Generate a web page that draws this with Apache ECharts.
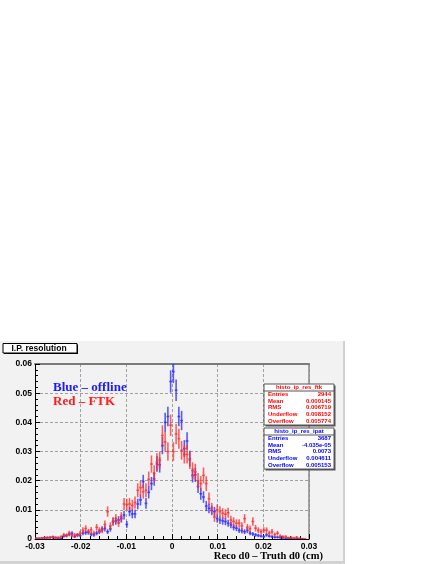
<!DOCTYPE html>
<html>
<head>
<meta charset="utf-8">
<script src="https://cdn.jsdelivr.net/npm/echarts@6/dist/echarts.min.js"></script>
<style>
html,body{margin:0;padding:0;background:#fff;}
#chart{width:436px;height:564px;}
</style>
</head>
<body>
<div id="chart"></div>
<script>
// Histogram binning (100 bins from -0.03 to 0.03)
const binLow = -0.03;
const binHigh = 0.03;
const nBins = 100;

// Normalised bin contents
const blueValues = [
  0.0002,0.0002,0.0003,0.0004,0.0005,0.0005,0.0006,0.0005,0.0003,0.0002,
  0.0010,0.0012,0.0016,0.0019,0.0008,0.0014,0.0012,0.0020,0.0022,0.0023,
  0.0016,0.0014,0.0020,0.0025,0.0034,0.0036,0.0025,0.0035,0.0060,0.0062,
  0.0065,0.0070,0.0082,0.0050,0.0094,0.0086,0.0086,0.0120,0.0134,0.0197,
  0.0122,0.0160,0.0190,0.0206,0.0257,0.0254,0.0320,0.0400,0.0420,0.0540,
  0.0574,0.0510,0.0420,0.0406,0.0310,0.0336,0.0275,0.0218,0.0220,0.0180,
  0.0155,0.0144,0.0113,0.0105,0.0098,0.0094,0.0070,0.0065,0.0062,0.0060,
  0.0054,0.0048,0.0040,0.0037,0.0030,0.0028,0.0025,0.0029,0.0020,0.0017,
  0.0014,0.0012,0.0010,0.0008,0.0014,0.0010,0.0008,0.0006,0.0006,0.0005,
  0.0004,0.0003,0.0003,0.0002,0.0002,0.0001,0.0001,0.0001,0,0
];
const redValues = [
  0.0002,0.0002,0.0003,0.0005,0.0003,0.0005,0.0007,0.0004,0.0005,0.0008,
  0.0014,0.0012,0.0020,0.0011,0.0014,0.0013,0.0020,0.0030,0.0036,0.0025,
  0.0031,0.0020,0.0040,0.0030,0.0030,0.0050,0.0094,0.0045,0.0060,0.0070,
  0.0055,0.0076,0.0120,0.0118,0.0120,0.0115,0.0125,0.0167,0.0176,0.0162,
  0.0167,0.0205,0.0257,0.0225,0.0264,0.0270,0.0355,0.0333,0.0300,0.0390,
  0.0300,0.0360,0.0344,0.0304,0.0290,0.0290,0.0270,0.0235,0.0230,0.0200,
  0.0190,0.0218,0.0190,0.0138,0.0105,0.0075,0.0100,0.0094,0.0088,0.0085,
  0.0090,0.0065,0.0060,0.0054,0.0054,0.0045,0.0070,0.0040,0.0035,0.0060,
  0.0037,0.0030,0.0025,0.0030,0.0030,0.0020,0.0025,0.0015,0.0020,0.0010,
  0.0008,0.0008,0.0004,0.0005,0.0003,0.0006,0.0002,0.0001,0.0001,0
];

const blueEntries = 3687;
const redEntries = 2944;

const xTicks = [-0.03,-0.02,-0.01,0,0.01,0.02,0.03];
const yTicks = [0,0.01,0.02,0.03,0.04,0.05,0.06];

const redStats = [
  ['Entries','2944'],['Mean','0.000145'],['RMS','0.006719'],
  ['Underflow','0.008152'],['Overflow','0.005774']
];
const blueStats = [
  ['Entries','3687'],['Mean','-4.035e-05'],['RMS','0.0073'],
  ['Underflow','0.004611'],['Overflow','0.005153']
];

const binWidth = (binHigh - binLow) / nBins;
function buildSeries(vals, entries){
  const out = [];
  vals.forEach((v, i) => {
    if (v <= 0) return;
    const xc = binLow + (i + 0.5) * binWidth;
    out.push([xc, v, Math.sqrt(v / entries)]);
  });
  return out;
}

function crossRenderer(color){
  return function(params, api){
    const x = api.value(0), y = api.value(1), e = api.value(2);
    const c = api.coord([x, y]);
    const lo = api.coord([x, y - e]);
    const hi = api.coord([x, y + e]);
    const l = api.coord([x - binWidth / 2, y]);
    const r = api.coord([x + binWidth / 2, y]);
    return {
      type: 'group',
      children: [
        {type:'line', shape:{x1:c[0], y1:lo[1], x2:c[0], y2:hi[1]}, style:{stroke:color, lineWidth:1.6}},
        {type:'line', shape:{x1:l[0], y1:c[1], x2:r[0], y2:c[1]}, style:{stroke:color, lineWidth:1.6}}
      ]
    };
  };
}

function fmt(v){
  if (Math.abs(v) < 1e-9) return '0';
  return String(+v.toFixed(2));
}

const labelFont = {fontFamily:'Liberation Sans', fontWeight:'bold', fontSize:8.5, color:'#000'};

function statsBox(x, y, w, title, rows, color){
  const Z = 50;
  const rowH = 6.6;
  const headH = 7;
  const h = headH + rows.length * rowH + 1;
  const font = 'bold 6px "Liberation Sans"';
  const els = [
    {type:'rect', z:Z, shape:{x:x+1.5, y:y+1.5, width:w, height:h}, style:{fill:'#555'}},
    {type:'rect', z:Z+1, shape:{x:x, y:y, width:w, height:h}, style:{fill:'#fff', stroke:'#555', lineWidth:1}},
    {type:'line', z:Z+2, shape:{x1:x, y1:y+headH, x2:x+w, y2:y+headH}, style:{stroke:'#555', lineWidth:1}},
    {type:'text', z:Z+2, x:x+w/2, y:y+headH/2+0.3, style:{text:title, fill:color, font:font, align:'center', verticalAlign:'middle'}}
  ];
  rows.forEach((r, k) => {
    const yy = y + headH + rowH * (k + 0.5) + 0.3;
    els.push({type:'text', z:Z+2, x:x+4, y:yy, style:{text:r[0], fill:color, font:font, align:'left', verticalAlign:'middle'}});
    els.push({type:'text', z:Z+2, x:x+w-3, y:yy, style:{text:r[1], fill:color, font:font, align:'right', verticalAlign:'middle'}});
  });
  return els;
}

const chart = echarts.init(document.getElementById('chart'), null, {renderer:'canvas'});
const option = {
  backgroundColor: '#ffffff',
  animation: false,
  grid: {left:35, top:364, width:274, height:175, containLabel:false},
  xAxis: [
    {
      type:'value', min:xTicks[0], max:xTicks[xTicks.length-1], interval:0.01, position:'bottom',
      axisLine:{show:true, onZero:false, lineStyle:{color:'#000', width:1}},
      axisTick:{show:true, inside:true, length:5, lineStyle:{color:'#000'}},
      minorTick:{show:true, splitNumber:5, length:3, lineStyle:{color:'#000'}},
      splitLine:{show:true, lineStyle:{color:'#a0a0a0', type:[3,2], width:1}},
      axisLabel:Object.assign({margin:3, formatter:fmt}, labelFont)
    },
    {
      type:'value', min:xTicks[0], max:xTicks[xTicks.length-1], position:'top',
      axisLine:{show:true, onZero:false, lineStyle:{color:'#7a7a7a', width:2}},
      axisTick:{show:false}, axisLabel:{show:false}, splitLine:{show:false}
    }
  ],
  yAxis: [
    {
      type:'value', min:yTicks[0], max:yTicks[yTicks.length-1], interval:0.01, position:'left',
      axisLine:{show:true, onZero:false, lineStyle:{color:'#000', width:1}},
      axisTick:{show:true, inside:true, length:5, lineStyle:{color:'#000'}},
      minorTick:{show:true, splitNumber:5, length:3, lineStyle:{color:'#000'}},
      splitLine:{show:true, lineStyle:{color:'#a0a0a0', type:[3,2], width:1}},
      axisLabel:Object.assign({margin:3, formatter:fmt}, labelFont)
    },
    {
      type:'value', min:yTicks[0], max:yTicks[yTicks.length-1], position:'right',
      axisLine:{show:true, onZero:false, lineStyle:{color:'#8a8a8a', width:1.5}},
      axisTick:{show:false}, axisLabel:{show:false}, splitLine:{show:false}
    }
  ],
  series: [
    {
      type:'custom', name:'ipat', xAxisIndex:0, yAxisIndex:0, clip:true,
      renderItem: crossRenderer('rgba(45,45,255,0.78)'),
      data: buildSeries(blueValues, blueEntries), z:3
    },
    {
      type:'custom', name:'ftk', xAxisIndex:0, yAxisIndex:0, clip:true,
      renderItem: crossRenderer('rgba(255,45,45,0.75)'),
      data: buildSeries(redValues, redEntries), z:4
    }
  ],
  graphic: [].concat([
    {type:'rect', z:-10, shape:{x:0, y:341, width:343, height:220}, style:{fill:'#f2f2f2'}},
    {type:'rect', z:-10, shape:{x:343, y:341, width:2, height:223}, style:{fill:'#d2d2d2'}},
    {type:'rect', z:-10, shape:{x:0, y:561, width:345, height:3}, style:{fill:'#d2d2d2'}},
    // title box
    {type:'rect', z:40, shape:{x:4, y:344.5, width:74, height:9.5}, style:{fill:'#000'}},
    {type:'rect', z:41, shape:{x:3, y:343.5, width:74, height:9.5}, style:{fill:'#fff', stroke:'#000', lineWidth:1}},
    {type:'text', z:42, x:11.5, y:348.6, style:{text:'I.P. resolution', fill:'#000', font:'bold 8.5px "Liberation Sans"', align:'left', verticalAlign:'middle'}},
    // legend-like text
    {type:'text', z:42, x:53, y:387.5, style:{text:'Blue \u2013 offline', fill:'#1a1aff', font:'bold 13px "Liberation Serif"', align:'left', verticalAlign:'middle'}},
    {type:'text', z:42, x:53, y:402, style:{text:'Red \u2013 FTK', fill:'#ff1a1a', font:'bold 13px "Liberation Serif"', align:'left', verticalAlign:'middle'}},
    // axis title
    {type:'text', z:42, x:323, y:556, style:{text:'Reco d0 \u2013 Truth d0 (cm)', fill:'#000', font:'bold 10.5px "Liberation Serif"', align:'right', verticalAlign:'middle'}}
  ],
  statsBox(264, 384, 70, 'histo_ip_res_ftk', redStats, '#ff0000'),
  statsBox(264, 428, 70, 'histo_ip_res_ipat', blueStats, '#0000ff'))
};
chart.setOption(option);
</script>
</body>
</html>
